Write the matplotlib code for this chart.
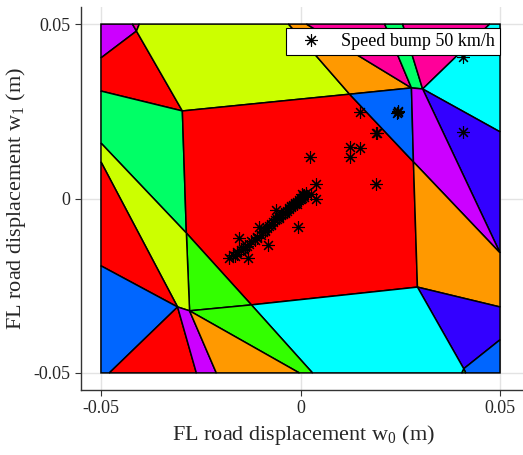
import matplotlib
matplotlib.use("Agg")
import matplotlib.pyplot as plt
from matplotlib.patches import Polygon

plt.rcParams['font.family'] = ['Liberation Serif', 'DejaVu Serif']
plt.rcParams['mathtext.fontset'] = 'custom'
plt.rcParams['mathtext.rm'] = 'Liberation Serif'
plt.rcParams['mathtext.default'] = 'regular'

# partition regions of the explicit controller: colour, x vertices, y vertices
region_colors = [
    '#CC00FF', '#FF0099', '#FF0000', '#CCFF00', '#00FF66', '#FF0000',
    '#FF9900', '#0066FF', '#FF0099', '#00FF66', '#FF0099', '#00FFFF',
    '#3300FF', '#CC00FF', '#FF9900', '#3300FF', '#0066FF', '#33FF00',
    '#00FFFF', '#33FF00', '#33FF00', '#CCFF00', '#FF0000', '#0066FF',
    '#FF0000', '#CC00FF', '#FF9900',
]
region_x = [
    [-0.05, -0.0421, -0.0411, -0.05],                 # purple top-left
    [-0.0421, -0.0404, -0.0411],                      # tiny magenta
    [-0.05, -0.0411, -0.0296, -0.05],                 # red top-left
    [-0.0404, -0.0030, 0.0123, -0.0296, -0.0411],     # yellow top
    [-0.05, -0.0296, -0.0286, -0.05],                 # spring green left
    [-0.0296, 0.0123, 0.0283, 0.0293, -0.0123, -0.0286],  # central red
    [-0.0030, 0.0015, 0.0278, 0.0123],                # orange top
    [0.0123, 0.0278, 0.0283],                         # blue middle
    [0.0015, 0.0211, 0.0278],                         # pink left
    [0.0211, 0.0256, 0.0306, 0.0278],                 # green strip
    [0.0256, 0.0474, 0.0306],                         # pink right
    [0.0474, 0.05, 0.05, 0.0306],                     # cyan top
    [0.0306, 0.05, 0.05],                             # indigo right
    [0.0278, 0.0306, 0.05, 0.0283],                   # purple right
    [0.0283, 0.05, 0.05, 0.0293],                     # orange right
    [0.0293, 0.05, 0.05, 0.0409],                     # indigo lower
    [0.0409, 0.05, 0.05, 0.0414],                     # blue lower right
    [0.0404, 0.0409, 0.0414],                         # tiny green
    [-0.0123, 0.0293, 0.0409, 0.0404, 0.0030],        # cyan bottom
    [-0.0286, -0.0123, -0.0278],                      # lime triangle
    [-0.0278, -0.0123, 0.0030, -0.0003],              # lime band
    [-0.05, -0.0286, -0.0278, -0.0308, -0.05],        # yellow left
    [-0.05, -0.0308, -0.05],                          # red left
    [-0.05, -0.0308, -0.0479, -0.05],                 # blue left
    [-0.0479, -0.0308, -0.0261],                      # red bottom
    [-0.0308, -0.0278, -0.0211, -0.0261],             # purple bottom
    [-0.0278, -0.0003, -0.0211],                      # orange bottom
]
region_y = [
    [0.05, 0.05, 0.0480, 0.0403],
    [0.05, 0.05, 0.0480],
    [0.0403, 0.0480, 0.0251, 0.0308],
    [0.05, 0.05, 0.0299, 0.0251, 0.0480],
    [0.0308, 0.0251, -0.0099, 0.0159],
    [0.0251, 0.0299, 0.0105, -0.0254, -0.0305, -0.0099],
    [0.05, 0.05, 0.0317, 0.0299],
    [0.0299, 0.0317, 0.0105],
    [0.05, 0.05, 0.0317],
    [0.05, 0.05, 0.0314, 0.0317],
    [0.05, 0.05, 0.0314],
    [0.05, 0.05, 0.0191, 0.0314],
    [0.0314, 0.0191, -0.0156],
    [0.0317, 0.0314, -0.0156, 0.0105],
    [0.0105, -0.0156, -0.0311, -0.0254],
    [-0.0254, -0.0311, -0.0405, -0.0488],
    [-0.0488, -0.0405, -0.05, -0.05],
    [-0.05, -0.0488, -0.05],
    [-0.0305, -0.0254, -0.0488, -0.05, -0.05],
    [-0.0099, -0.0305, -0.0322],
    [-0.0322, -0.0305, -0.05, -0.05],
    [0.0159, -0.0099, -0.0322, -0.0311, 0.0105],
    [0.0105, -0.0311, -0.0193],
    [-0.0193, -0.0311, -0.05, -0.05],
    [-0.05, -0.0311, -0.05],
    [-0.0311, -0.0322, -0.05, -0.05],
    [-0.0322, -0.05, -0.05],
]

# measured road displacement pairs, speed bump at 50 km/h
w0 = [
    0.0407, 0.0148, 0.0243, 0.0245, 0.0244, 0.0189, 0.0191, 0.0123, 0.0150,
    0.0123, 0.0407, 0.0023, 0.0039, 0.0188, 0.0039, -0.0007, -0.0082,
    -0.0132, -0.0153, -0.0103, -0.0061, 0.0003, 0.0026,
    -0.0178, -0.0170, -0.0163, -0.0158, -0.0150, -0.0143, -0.0135, -0.0128,
    -0.0123, -0.0115, -0.0108, -0.0100, -0.0095, -0.0088, -0.0083, -0.0078,
    -0.0073, -0.0068, -0.0063, -0.0058, -0.0053, -0.0048, -0.0043, -0.0040,
    -0.0035, -0.0030, -0.0028, -0.0023, -0.0020, -0.0015, -0.0013, -0.0008,
    -0.0005, 0.0000, 0.0003, 0.0008, 0.0010, 0.0015, 0.0005, -0.0010,
    -0.0025, -0.0038, -0.0055, -0.0075, -0.0090, -0.0110, -0.0138, -0.0160,
]
w1 = [
    0.0406, 0.0248, 0.0246, 0.0249, 0.0251, 0.0187, 0.0189, 0.0148, 0.0146,
    0.0120, 0.0190, 0.0120, 0.0041, 0.0041, -0.0002, -0.0081, -0.0133,
    -0.0171, -0.0113, -0.0081, -0.0033, 0.0014, 0.0012,
    -0.0170, -0.0162, -0.0165, -0.0153, -0.0148, -0.0145, -0.0136, -0.0130,
    -0.0122, -0.0119, -0.0110, -0.0105, -0.0096, -0.0090, -0.0085, -0.0079,
    -0.0073, -0.0067, -0.0062, -0.0059, -0.0053, -0.0047, -0.0044, -0.0039,
    -0.0036, -0.0030, -0.0027, -0.0021, -0.0019, -0.0016, -0.0013, -0.0010,
    -0.0004, -0.0001, 0.0001, 0.0004, 0.0010, 0.0016, 0.0007, -0.0016,
    -0.0024, -0.0042, -0.0056, -0.0076, -0.0093, -0.0113, -0.0139, -0.0159,
]

ticks = [-0.05, 0, 0.05]
tick_labels = ['-0.05', '0', '0.05']

fig = plt.figure(figsize=(5.23, 4.55), dpi=100)
ax = fig.add_axes([81 / 523, 65 / 455, 445 / 523, 383 / 455])

for col, xs, ys in zip(region_colors, region_x, region_y):
    ax.add_patch(Polygon(list(zip(xs, ys)), closed=True, facecolor=col,
                         edgecolor='black', linewidth=1.1, zorder=2))

ax.plot(w0, w1, linestyle='none', marker=(8, 2, 0), markersize=9,
        markeredgewidth=0.8, color='black', zorder=3,
        label='Speed bump 50 km/h')

ax.set_xlim(-0.0550, 0.0565)
ax.set_ylim(-0.0549, 0.0549)
ax.set_xticks(ticks, tick_labels)
ax.set_yticks(ticks, tick_labels)
ax.set_axisbelow(True)
ax.grid(True, color='#e3e3e3', linewidth=1)
ax.tick_params(direction='out', length=4, width=0.8, colors='#333333',
               labelsize=13, labelcolor='#262626')
for side in ['top', 'right']:
    ax.spines[side].set_visible(False)
for side in ['left', 'bottom']:
    ax.spines[side].set_color('#333333')
    ax.spines[side].set_linewidth(1)

ax.set_xlabel('FL road displacement w$_0$ (m)', fontsize=16, color='#262626')
ax.set_ylabel('FL road displacement w$_1$ (m)', fontsize=16, color='#262626')

leg = ax.legend(loc='upper right', bbox_to_anchor=(0.05, 0.0489),
                bbox_transform=ax.transData, fontsize=13, frameon=True,
                fancybox=False, framealpha=1, borderaxespad=0, borderpad=0.28,
                handlelength=2.3, handletextpad=0.5)
leg.get_frame().set_edgecolor('black')
leg.get_frame().set_linewidth(0.8)
leg.set_zorder(5)

fig.savefig('out.png', dpi=100)
